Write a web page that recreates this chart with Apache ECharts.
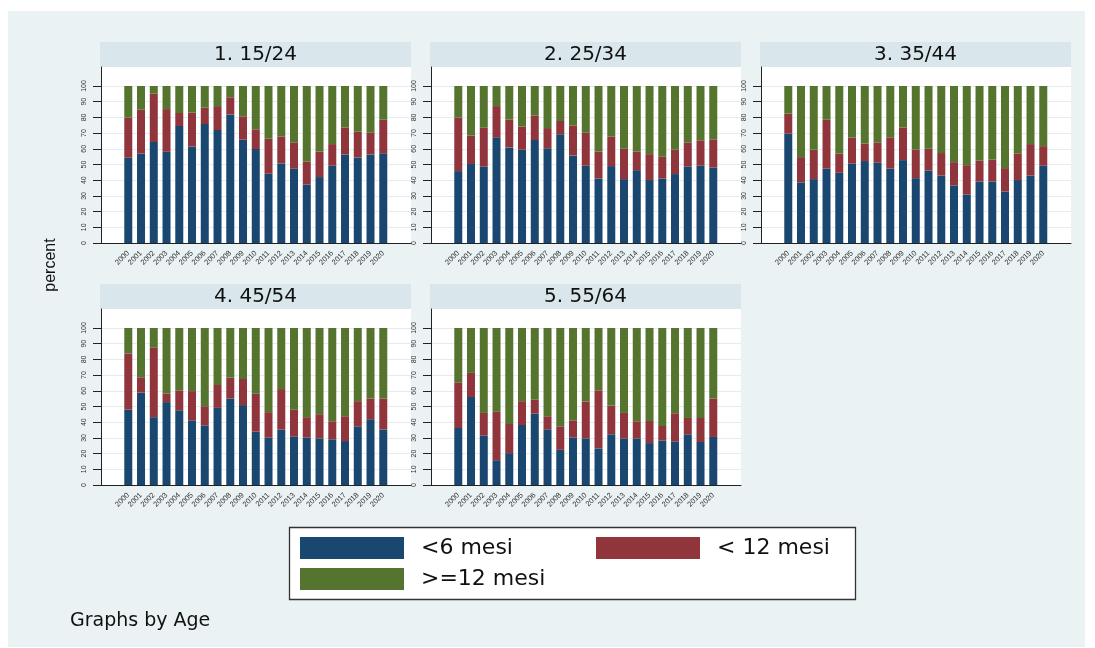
<!DOCTYPE html>
<html>
<head>
<meta charset="utf-8">
<script src="https://cdn.jsdelivr.net/npm/echarts@6/dist/echarts.min.js"></script>
<style>
html,body{margin:0;padding:0;background:#fff;}
#chart{width:1095px;height:648px;}
</style>
</head>
<body>
<div id="chart"></div>
<script>
const years = ['2000','2001','2002','2003','2004','2005','2006','2007','2008','2009','2010',
  '2011','2012','2013','2014','2015','2016','2017','2018','2019','2020'];
const panelTitles = ['1. 15/24','2. 25/34','3. 35/44','4. 45/54','5. 55/64'];
const seriesNames = ['<6 mesi','< 12 mesi','>=12 mesi'];
const yTicks = [0,10,20,30,40,50,60,70,80,90,100];

// share of "<6 mesi" per age group
const lt6_1524 = [54.3,56.9,64.3,58.1,74.5,61.5,75.8,71.9,81.9,65.8,59.8,44.1,50.7,47.3,37.3,42.0,49.2,56.4,54.5,56.4,57.1];
const lt6_2534 = [45.8,50.3,48.8,67.3,60.9,59.4,65.6,60.3,69.2,55.8,49.2,41.1,49.0,40.7,46.4,40.1,41.1,43.9,48.8,49.2,48.1];
const lt6_3544 = [69.6,38.6,40.7,47.5,44.7,50.5,52.2,51.1,47.5,52.8,41.3,46.2,43.0,36.7,30.9,39.2,39.2,32.8,40.1,43.0,49.2];
const lt6_4554 = [48.1,58.8,43.2,52.8,47.6,41.2,38.0,49.1,55.1,50.9,34.0,30.1,35.3,31.0,30.3,29.7,29.1,28.0,37.4,41.9,35.3];
const lt6_5564 = [36.3,56.0,31.6,15.8,20.3,38.2,45.5,35.5,22.4,30.3,29.7,23.3,32.3,29.7,29.7,26.7,28.4,27.8,32.3,27.4,30.6];

// share of "< 12 mesi"
const lt12_1524 = [25.5,28.0,30.8,27.2,8.3,21.5,10.4,15.3,10.9,14.9,12.6,22.3,17.2,16.8,14.5,16.3,13.8,17.2,16.4,13.8,21.4];
const lt12_2534 = [34.2,18.2,24.6,19.9,17.8,14.7,15.7,12.9,8.5,19.1,21.0,17.2,18.7,19.3,11.9,16.5,13.8,15.5,15.3,16.2,17.9];
const lt12_3544 = [12.8,16.1,18.7,31.0,12.2,16.6,11.2,13.0,19.8,20.8,18.1,13.8,14.3,14.8,18.7,13.2,14.0,14.9,17.0,20.0,12.5];
const lt12_4554 = [35.7,9.8,44.2,5.5,12.7,18.6,12.2,14.6,13.3,16.6,24.1,16.3,25.8,16.9,12.9,15.4,11.5,15.8,16.0,13.2,19.8];
const lt12_5564 = [29.1,15.4,14.3,30.8,18.6,15.2,8.8,8.3,15.0,10.9,23.5,37.0,18.3,16.2,10.9,14.1,9.2,17.9,10.4,15.3,24.5];

// share of ">=12 mesi"
const ge12_1524 = [20.2,15.1,4.9,14.7,17.2,17.0,13.8,12.8,7.2,19.3,27.6,33.6,32.1,35.9,48.2,41.7,37.0,26.4,29.1,29.8,21.5];
const ge12_2534 = [20.0,31.5,26.6,12.8,21.3,25.9,18.7,26.8,22.3,25.1,29.8,41.7,32.3,40.0,41.7,43.4,45.1,40.6,35.9,34.6,34.0];
const ge12_3544 = [17.6,45.3,40.6,21.5,43.1,32.9,36.6,35.9,32.7,26.4,40.6,40.0,42.7,48.5,50.4,47.6,46.8,52.3,42.9,37.0,38.3];
const ge12_4554 = [16.2,31.4,12.6,41.7,39.7,40.2,49.8,36.3,31.6,32.5,41.9,53.6,38.9,52.1,56.8,54.9,59.4,56.2,46.6,44.9,44.9];
const ge12_5564 = [34.6,28.6,54.1,53.4,61.1,46.6,45.7,56.2,62.6,58.8,46.8,39.7,49.4,54.1,59.4,59.2,62.4,54.3,57.3,57.3,44.9];

const panelData = [
  [lt6_1524, lt12_1524, ge12_1524],
  [lt6_2534, lt12_2534, ge12_2534],
  [lt6_3544, lt12_3544, ge12_3544],
  [lt6_4554, lt12_4554, ge12_4554],
  [lt6_5564, lt12_5564, ge12_5564]
];

const colors = ['#1A476F', '#90353B', '#55752F'];
const BG = '#EAF2F3';
const STRIP = '#D9E6EB';
const AXIS = '#222';

const grids = [], xAxes = [], yAxes = [], series = [], graphics = [];

graphics.push({type:'rect', z:-100, shape:{x:8, y:11, width:1077, height:636}, style:{fill:BG}});

panelTitles.forEach((title, p) => {
  const c = p % 3, r = Math.floor(p / 3);
  const dx = 330 * c, dy = 242 * r;

  // strip
  graphics.push({type:'rect', z:-50, shape:{x:100 + dx, y:42 + dy, width:311, height:25}, style:{fill:STRIP}});
  graphics.push({type:'text', z:-40, style:{text:title, x:255.5 + dx, y:55 + dy, align:'center', verticalAlign:'middle',
    font:'20px "DejaVu Sans"', fill:'#111'}});

  // frame grid (white plot region, left and bottom axis lines)
  const gFrame = grids.length;
  grids.push({left:101 + dx, top:67 + dy, width:310, height:176, show:true, backgroundColor:'#fff', borderWidth:0, z:-1});
  xAxes.push({gridIndex:gFrame, type:'value', min:0, max:1, axisLine:{show:true, onZero:false, lineStyle:{color:AXIS, width:1}},
    axisTick:{show:false}, axisLabel:{show:false}, splitLine:{show:false}, z:5});
  yAxes.push({gridIndex:gFrame, type:'value', min:0, max:1, axisLine:{show:true, onZero:false, lineStyle:{color:AXIS, width:1}},
    axisTick:{show:false}, axisLabel:{show:false}, splitLine:{show:false}, z:5});

  // scale grid (y ticks, labels, grid lines across the full width)
  const gScale = grids.length;
  grids.push({left:101 + dx, top:86 + dy, width:310, height:157});
  xAxes.push({gridIndex:gScale, type:'value', min:0, max:1, show:false});
  yAxes.push({gridIndex:gScale, type:'value', min:yTicks[0], max:yTicks[yTicks.length-1], interval:10,
    axisLine:{show:false}, axisTick:{show:true, length:8, lineStyle:{color:AXIS}},
    axisLabel:{rotate:90, fontSize:7, margin:13, color:'#333', fontFamily:'"Liberation Sans", Arial'},
    splitLine:{show:true, lineStyle:{color:'#E4ECEF', width:1}}, z:1});

  // bar grid
  const gBar = grids.length;
  grids.push({left:121.9 + dx, top:86 + dy, width:267.75, height:157});
  xAxes.push({gridIndex:gBar, type:'category', data:years, axisLine:{show:false}, axisTick:{show:false},
    axisLabel:{interval:0, rotate:45, fontSize:7.5, margin:9, color:'#333', fontFamily:'"Liberation Sans", Arial'}});
  yAxes.push({gridIndex:gBar, type:'value', min:0, max:100, show:false});

  panelData[p].forEach((vals, k) => {
    series.push({
      name: seriesNames[k], type:'bar', stack:'p' + p, xAxisIndex:gBar, yAxisIndex:gBar,
      barWidth:8, data:vals, itemStyle:{color:colors[k]}, emphasis:{disabled:true}
    });
  });
});

// y axis title
graphics.push({type:'text', z:10, rotation:Math.PI/2, x:51, y:265, style:{text:'percent', x:0, y:0,
  align:'center', verticalAlign:'middle', font:'16px "Liberation Sans", Arial', fill:'#111'}});

// legend box
graphics.push({type:'rect', z:-20, shape:{x:289.5, y:527.5, width:566, height:72},
  style:{fill:'#fff', stroke:'#333', lineWidth:1.3}});

// note
graphics.push({type:'text', z:10, style:{text:'Graphs by Age', x:70, y:621, align:'left', verticalAlign:'middle',
  font:'19px "DejaVu Sans"', fill:'#111'}});

const legendText = {fontSize:22, fontFamily:'"DejaVu Sans"', color:'#111', padding:[0,0,0,12]};
const option = {
  animation:false,
  backgroundColor:'#fff',
  color:colors,
  grid:grids,
  xAxis:xAxes,
  yAxis:yAxes,
  series:series,
  legend:[
    {data:[seriesNames[0], seriesNames[2]], orient:'vertical', left:300, top:537, padding:0, itemGap:9,
      itemWidth:104, itemHeight:22, icon:'rect', itemStyle:{borderWidth:0}, textStyle:legendText, selectedMode:false},
    {data:[seriesNames[1]], orient:'vertical', left:596, top:537, padding:0, itemGap:9,
      itemWidth:104, itemHeight:22, icon:'rect', itemStyle:{borderWidth:0}, textStyle:legendText, selectedMode:false}
  ],
  graphic:{elements:graphics}
};

const chart = echarts.init(document.getElementById('chart'), null, {renderer:'canvas'});
chart.setOption(option);
</script>
</body>
</html>
